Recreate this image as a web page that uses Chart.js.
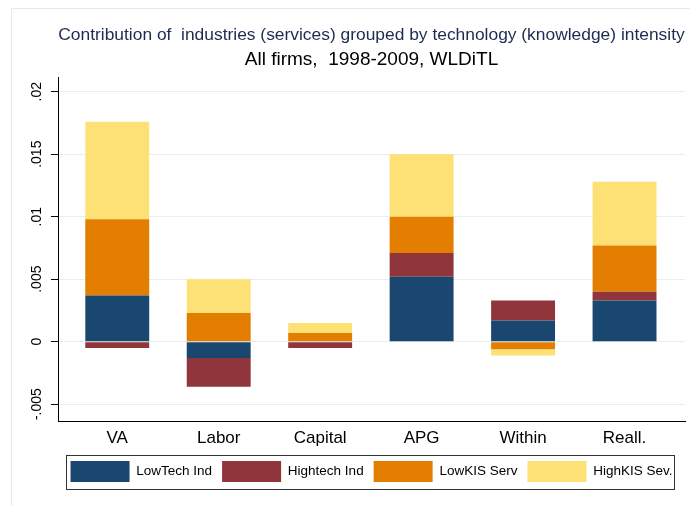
<!DOCTYPE html>
<html>
<head>
  <title>Contribution of industries by technology intensity</title>
  <script src="https://cdn.jsdelivr.net/npm/chart.js"></script>
  <style>
    body { margin: 0; background: #fff; }
    #wrap { position: relative; width: 690px; height: 506px; }
  </style>
</head>
<body>
  <div id="wrap"><canvas id="contribChart"></canvas></div>

  <script>
    // categories and stacked contributions
    var categories = ['VA', 'Labor', 'Capital', 'APG', 'Within', 'Reall.'];
    var lowTechInd  = [0.0037, -0.0013,  0.0000, 0.0052,  0.0017, 0.0033];
    var highTechInd = [-0.0005, -0.0023, -0.0005, 0.0019,  0.0016, 0.0007];
    var lowKisServ  = [0.0061,  0.0023,  0.0007, 0.0029, -0.0006, 0.0037];
    var highKisServ = [0.0078,  0.0027,  0.0008, 0.0050, -0.0005, 0.0051];
    var yTicks = [-0.005, 0, 0.005, 0.01, 0.015, 0.02];

    var seriesNames = ['LowTech Ind', 'Hightech Ind', 'LowKIS Serv', 'HighKIS Sev.'];
    var seriesColors = ['#1a476f', '#90353b', '#e37e00', '#fee174'];
    var seriesValues = [lowTechInd, highTechInd, lowKisServ, highKisServ];

    Chart.defaults.font.family = '"Liberation Sans", Arial, sans-serif';
    Chart.defaults.color = '#000';

    // stata-ish number format: .005, -.005, 0
    function stataNum(v) {
      var s = String(Number(v.toFixed(4)));
      return s.replace(/^0\./, '.').replace(/^-0\./, '-.');
    }

    // light outer frame + box round the legend
    var frames = {
      id: 'frames',
      beforeDraw: function(chart) {
        var ctx = chart.ctx;
        ctx.save();
        ctx.strokeStyle = '#e4ebee';
        ctx.lineWidth = 1;
        ctx.beginPath();
        ctx.moveTo(11.5, chart.height);
        ctx.lineTo(11.5, 8.5);
        ctx.lineTo(chart.width, 8.5);
        ctx.stroke();
        ctx.restore();
      },
      afterDraw: function(chart) {
        var hb = chart.legend.legendHitBoxes;
        if (!hb || !hb.length) return;
        var first = hb[0], last = hb[hb.length - 1];
        var x0 = Math.round(first.left - 5) + 0.5;
        var x1 = Math.round(last.left + last.width + 2) + 0.5;
        var y0 = Math.round(first.top - 6) + 0.5;
        var y1 = Math.round(first.top + first.height + 7) + 0.5;
        var ctx = chart.ctx;
        ctx.save();
        ctx.strokeStyle = '#333';
        ctx.lineWidth = 1;
        ctx.strokeRect(x0, y0, x1 - x0, y1 - y0);
        ctx.restore();
      }
    };

    var datasets = seriesNames.map(function(name, k) {
      return {
        label: name,
        data: seriesValues[k].map(function(v, i) { return { x: i, y: v }; }),
        backgroundColor: seriesColors[k],
        borderWidth: 0,
        categoryPercentage: 1,
        barPercentage: 0.63
      };
    });

    var ctx = document.getElementById('contribChart').getContext('2d');
    var chart = new Chart(ctx, {
      type: 'bar',
      data: { datasets: datasets },
      plugins: [frames],
      options: {
        responsive: true,
        maintainAspectRatio: false,
        animation: false,
        layout: { padding: { left: 0, right: 5, top: 0, bottom: 14 } },
        plugins: {
          tooltip: { enabled: false },
          title: {
            display: true,
            fullSize: false,
            text: 'Contribution of  industries (services) grouped by technology (knowledge) intensity',
            color: '#1c2b50',
            font: { size: 17.4, weight: 'normal' },
            padding: { top: 25, bottom: 2.8 }
          },
          subtitle: {
            display: true,
            fullSize: false,
            text: 'All firms,  1998-2009, WLDiTL',
            color: '#000',
            font: { size: 19, weight: 'normal' },
            padding: { top: 0, bottom: 6.5 }
          },
          legend: {
            position: 'bottom',
            fullSize: false,
            labels: {
              boxWidth: 59,
              boxHeight: 21,
              padding: 10,
              color: '#000',
              font: { size: 13.5 }
            }
          }
        },
        scales: {
          x: {
            type: 'linear',
            stacked: true,
            offset: false,
            min: -0.584,
            max: 5.596,
            grid: { display: false, drawTicks: false, offset: false },
            border: { display: true, color: '#000', width: 1 },
            afterBuildTicks: function(scale) {
              scale.ticks = categories.map(function(c, i) { return { value: i }; });
            },
            afterFit: function(scale) { scale.height = 30; },
            ticks: {
              padding: 7,
              font: { size: 17 },
              color: '#000',
              maxRotation: 0,
              callback: function(value) { return categories[value]; }
            }
          },
          y: {
            stacked: true,
            min: -0.00635,
            max: 0.0211,
            grid: { color: '#e6eef0', tickColor: '#000', tickLength: 7, lineWidth: 1 },
            border: { display: true, color: '#000', width: 1 },
            afterBuildTicks: function(scale) {
              scale.ticks = yTicks.map(function(v) { return { value: v }; });
            },
            afterFit: function(scale) { scale.width = 58; },
            ticks: {
              minRotation: 90,
              maxRotation: 90,
              crossAlign: 'center',
              padding: -2,
              font: { size: 14 },
              color: '#000',
              callback: function(value) { return stataNum(value); }
            }
          }
        }
      }
    });
  </script>
</body>
</html>
